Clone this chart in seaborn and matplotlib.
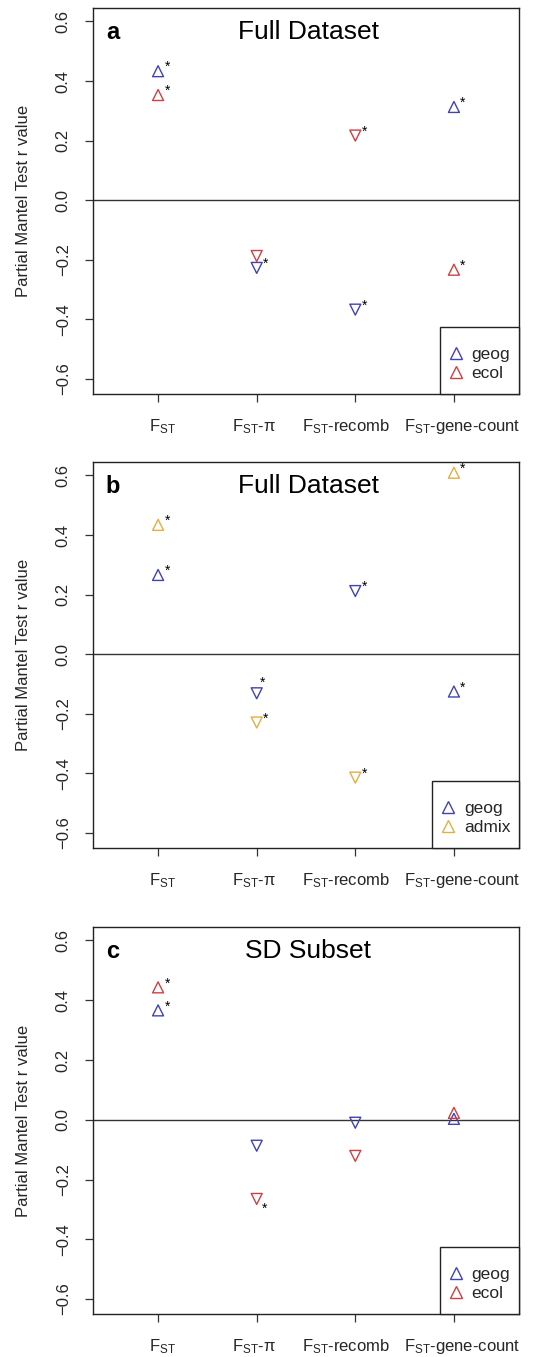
import numpy as np
import pandas as pd
import matplotlib
matplotlib.use("Agg")
import matplotlib.pyplot as plt
from matplotlib.lines import Line2D
from matplotlib.patches import Rectangle
import seaborn as sns

sns.set_theme(style="white")
plt.rcParams['font.family'] = ['Liberation Sans', 'DejaVu Sans']
plt.rcParams['mathtext.fontset'] = 'custom'
plt.rcParams['mathtext.rm'] = 'Liberation Sans'
plt.rcParams['mathtext.it'] = 'Liberation Sans:italic'

# ---------------- data ----------------
categories = ["FST", "FST-pi", "FST-recomb", "FST-gene-count"]
tick_labels = [r"F$_{\mathrm{ST}}$", r"F$_{\mathrm{ST}}$-π",
               r"F$_{\mathrm{ST}}$-recomb", r"F$_{\mathrm{ST}}$-gene-count"]

# panel a
a_geog = [0.433, -0.227, -0.367, 0.313]
a_geog_dir = ["up", "down", "down", "up"]
a_geog_sig = [True, True, True, True]
a_ecol = [0.353, -0.187, 0.217, -0.233]
a_ecol_dir = ["up", "down", "down", "up"]
a_ecol_sig = [True, False, True, True]

# panel b
b_geog = [0.266, -0.131, 0.212, -0.125]
b_geog_dir = ["up", "down", "down", "up"]
b_geog_sig = [True, True, True, True]
b_admix = [0.434, -0.229, -0.414, 0.609]
b_admix_dir = ["up", "down", "down", "up"]
b_admix_sig = [True, True, True, True]

# panel c
c_geog = [0.366, -0.087, -0.010, 0.003]
c_geog_dir = ["up", "down", "down", "up"]
c_geog_sig = [True, False, False, False]
c_ecol = [0.443, -0.265, -0.121, 0.023]
c_ecol_dir = ["up", "down", "down", "up"]
c_ecol_sig = [True, True, False, False]

yticks = [-0.6, -0.4, -0.2, 0.0, 0.2, 0.4, 0.6]
ytick_labels = ["-0.6", "-0.4", "-0.2", "0.0", "0.2", "0.4", "0.6"]
ytick_labels = [t.replace("-", "\u2212") for t in ytick_labels]

BLUE = "#4141b9"
RED = "#cf3f42"
ORANGE = "#e5ad43"

panels = [
    dict(letter="a", title="Full Dataset",
         series=[("geog", a_geog, a_geog_dir, a_geog_sig, BLUE),
                 ("ecol", a_ecol, a_ecol_dir, a_ecol_sig, RED)]),
    dict(letter="b", title="Full Dataset",
         series=[("geog", b_geog, b_geog_dir, b_geog_sig, BLUE),
                 ("admix", b_admix, b_admix_dir, b_admix_sig, ORANGE)]),
    dict(letter="c", title="SD Subset",
         series=[("geog", c_geog, c_geog_dir, c_geog_sig, BLUE),
                 ("ecol", c_ecol, c_ecol_dir, c_ecol_sig, RED)]),
]

# asterisk offsets (pixels) — default upper right, a couple of exceptions
default_off = (9, 4)
special_off = {("b", "geog", 1): (6, 11), ("c", "ecol", 1): (8, -10)}
# horizontal nudges of x tick labels (pixels), as in the original layout
label_nudge = [4, -3, -9, 8]

W, H = 559, 1357
fig = plt.figure(figsize=(W / 100, H / 100), dpi=100)
PX = 0.72  # points per pixel at dpi 100

ax_boxes = [(8, 394), (462, 848), (927, 1314)]
left_px, right_px = 93, 519

xpos = np.arange(1, len(categories) + 1)
legends = []

for p, (top, bot) in zip(panels, ax_boxes):
    ax = fig.add_axes([left_px / W, 1 - bot / H, (right_px - left_px) / W, (bot - top) / H])
    ax.set_xlim(0.34, 4.66)
    ax.set_ylim(-0.65, 0.645)
    ax.axhline(0, color="#333333", lw=1.0, zorder=1)

    for name, vals, dirs, sigs, col in p["series"]:
        df = pd.DataFrame({"x": xpos, "y": vals, "dir": dirs, "sig": sigs})
        for d, mk in (("up", "^"), ("down", "v")):
            sub = df[df["dir"] == d]
            if len(sub) == 0:
                continue
            sns.scatterplot(data=sub, x="x", y="y", marker=mk, s=62,
                            color=col, facecolor="none", edgecolor=col,
                            linewidth=1.0, ax=ax, legend=False, zorder=3)
        for i, (xv, yv, s) in enumerate(zip(xpos, vals, sigs)):
            if s:
                dx, dy = special_off.get((p["letter"], name, i), default_off)
                ax.annotate("*", (xv, yv), xytext=(dx * PX, dy * PX),
                            textcoords="offset points", ha="center", va="center",
                            fontsize=10, color="black", zorder=4)

    # make markers hollow
    for coll in ax.collections:
        ec = coll.get_edgecolors()
        coll.set_facecolors("none")
        coll.set_edgecolors(ec)

    ax.set_xticks(xpos)
    ax.set_xticklabels([])
    for xv, lab, nd in zip(xpos, tick_labels, label_nudge):
        ax.annotate(lab, xy=(xv, 0), xycoords=("data", "axes fraction"),
                    xytext=(nd * PX, -23 * PX), textcoords="offset points",
                    ha="center", va="top", fontsize=12, annotation_clip=False)
    ax.set_yticks(yticks)
    ax.set_yticklabels(ytick_labels, fontsize=12, rotation=90, va="center")
    ax.tick_params(axis="both", which="both", direction="out", length=6,
                   width=0.9, color="#333333", left=True, bottom=True)
    ax.tick_params(axis="y", pad=10)
    ax.set_xlabel("")
    ax.set_ylabel("Partial Mantel Test r value", fontsize=12)
    ax.yaxis.set_label_coords(-0.145, 0.5)
    for sp in ax.spines.values():
        sp.set_visible(True)
        sp.set_color("#222222")
        sp.set_linewidth(1.0)
    ax.grid(False)

    ax.text(0.505, 0.92, p["title"], transform=ax.transAxes, ha="center",
            va="baseline", fontsize=19, color="black")
    ax.text(0.03, 0.92, p["letter"], transform=ax.transAxes, ha="left",
            va="baseline", fontsize=17, fontweight="bold", color="black")

    handles = [Line2D([0], [0], marker="^", ls="none", markerfacecolor="none",
                      markeredgecolor=s[4], markersize=8, markeredgewidth=1.0, label=s[0])
               for s in p["series"]]
    leg = ax.legend(handles=handles, loc="lower right", borderaxespad=0,
                    bbox_to_anchor=(1, 0.011),
                    fontsize=12.5, frameon=False, handlelength=0.7,
                    handletextpad=0.55, labelspacing=0.22, borderpad=0.5)
    legends.append((ax, leg))

# frame around each legend: taller than the entries, as in the original
fig.canvas.draw()
renderer = fig.canvas.get_renderer()
for ax, leg in legends:
    bb = leg.get_window_extent(renderer).transformed(ax.transAxes.inverted())
    x0 = bb.x0 - 0.004
    rect = Rectangle((x0, 0), 1 - x0, 0.174, transform=ax.transAxes,
                     facecolor="white", edgecolor="#222222", lw=1.0, zorder=4.5,
                     clip_on=False)
    ax.add_patch(rect)
    leg.set_zorder(5)

fig.savefig("out.png", dpi=100)
